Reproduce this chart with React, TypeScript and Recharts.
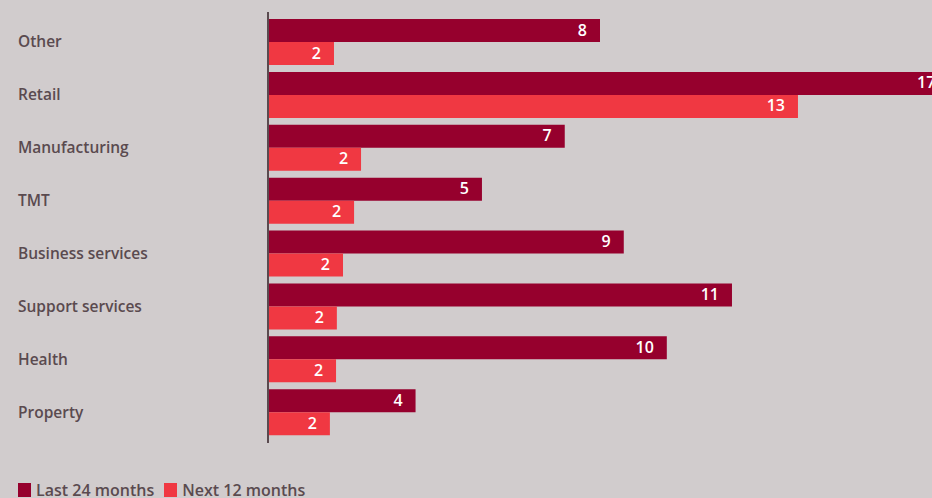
import { Bar, BarChart, LabelList, XAxis, YAxis } from "recharts";

const categories = [
  "Other",
  "Retail",
  "Manufacturing",
  "TMT",
  "Business services",
  "Support services",
  "Health",
  "Property"
];
const last24 = [8.1, 16.6, 7.24, 5.22, 8.68, 11.32, 9.73, 3.6];
const next12 = [1.61, 12.93, 2.27, 2.1, 1.83, 1.68, 1.66, 1.51];
const seriesNames = ["Last 24 months", "Next 12 months"];

const DARK = "#96002d";
const LIGHT = "#f03842";
const BG = "#d1cccd";
const TEXT = "#5a4a4f";
const FONT = "'Open Sans', 'Noto Sans', sans-serif";

const data = categories.map((name, i) => ({ name, last: last24[i], next: next12[i] }));

function CategoryTick({ y, payload }: any) {
  return (
    <text x={18} y={y} dy={5} fill={TEXT} fontSize={15.5} fontWeight={600} fontFamily={FONT} textAnchor="start">
      {payload.value}
    </text>
  );
}

function ValueLabel({ x, y, width, height, value }: any) {
  return (
    <text
      x={x + width - 13}
      y={y + height / 2}
      dy={5}
      fill="#ffffff"
      fontSize={16}
      fontWeight={600}
      fontFamily={FONT}
      textAnchor="end"
    >
      {Math.round(value)}
    </text>
  );
}

function LegendBox() {
  const colors = [DARK, LIGHT];
  return (
    <div
      style={{
        position: "absolute",
        left: 18,
        top: 479,
        display: "flex",
        alignItems: "center",
        fontFamily: FONT,
        fontSize: 16,
        color: TEXT,
        fontWeight: 600
      }}
    >
      {seriesNames.map((label, i) => (
        <span key={label} style={{ display: "flex", alignItems: "center", marginRight: 10 }}>
          <span style={{ width: 13, height: 14, background: colors[i], marginRight: 5, display: "inline-block" }} />
          {label}
        </span>
      ))}
    </div>
  );
}

export default function App() {
  return (
    <div style={{ position: "absolute", left: 0, top: 0, width: 932, height: 498, background: BG, overflow: "hidden" }}>
      <BarChart
        width={932}
        height={498}
        data={data}
        layout="vertical"
        margin={{ top: 12, right: 0, bottom: 55, left: 0 }}
        barGap={0}
      >
        <XAxis type="number" domain={[0, 16.2]} allowDataOverflow hide />
        <YAxis
          type="category"
          dataKey="name"
          width={268}
          tick={<CategoryTick />}
          tickLine={false}
          axisLine={{ stroke: TEXT, strokeWidth: 2 }}
          padding={{ top: 4, bottom: 4 }}
        />
        <Bar dataKey="last" name={seriesNames[0]} fill={DARK} barSize={23} isAnimationActive={false}>
          <LabelList dataKey="last" content={<ValueLabel />} />
        </Bar>
        <Bar dataKey="next" name={seriesNames[1]} fill={LIGHT} barSize={23} isAnimationActive={false}>
          <LabelList dataKey="next" content={<ValueLabel />} />
        </Bar>
      </BarChart>
      <LegendBox />
    </div>
  );
}
